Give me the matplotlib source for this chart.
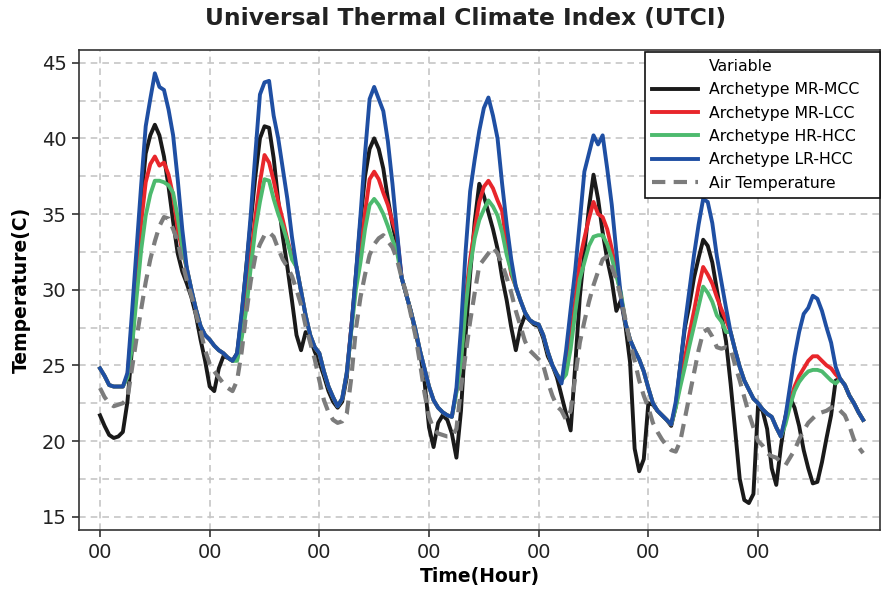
import matplotlib
matplotlib.use("Agg")
import matplotlib.pyplot as plt
from matplotlib.lines import Line2D
import numpy as np

plt.rcParams['font.family'] = ['DejaVu Sans']

# hourly values over 7 days (one row per day)
mr_mcc = [
    21.7, 21.0, 20.4, 20.2, 20.3, 20.6, 22.6, 26.1, 31.0, 35.8, 39.0, 40.2, 40.9, 40.2, 38.8, 36.8, 34.5, 32.4, 31.2, 30.4, 29.5, 28.3, 26.7, 25.3,
    23.6, 23.3, 24.8, 25.6, 25.5, 25.3, 25.8, 28.3, 31.5, 34.5, 37.5, 40.0, 40.8, 40.7, 38.7, 35.9, 33.5, 31.5, 29.3, 27.0, 26.0, 27.2, 26.8, 25.9,
    25.2, 24.3, 23.3, 22.6, 22.2, 22.6, 24.2, 27.5, 31.0, 34.5, 37.5, 39.3, 40.0, 39.3, 38.0, 36.0, 34.3, 33.0, 30.8, 29.7, 28.6, 27.2, 25.9, 24.0,
    20.9, 19.6, 21.2, 21.7, 21.4, 20.5, 18.9, 22.0, 27.0, 31.0, 34.5, 37.0, 36.2, 35.1, 34.0, 32.7, 30.8, 29.3, 27.5, 26.0, 27.5, 28.3, 28.0, 27.7,
    27.6, 26.8, 25.6, 25.0, 24.2, 23.0, 21.8, 20.7, 25.0, 29.5, 32.5, 35.4, 37.6, 36.0, 33.8, 32.0, 30.6, 28.6, 29.3, 27.6, 25.2, 19.5, 18.0, 18.8,
    22.5, 22.4, 22.0, 21.7, 21.4, 21.0, 22.3, 25.0, 27.5, 29.0, 30.8, 32.1, 33.3, 32.9, 31.8, 30.0, 28.3, 26.6, 23.8, 20.7, 17.5, 16.1, 15.9, 16.5,
    22.3, 22.0, 20.8, 18.2, 17.1, 19.6, 21.6, 22.9, 22.2, 21.0, 19.4, 18.2, 17.2, 17.3, 18.6, 20.2, 21.7, 24.0, 24.1, 23.7, 23.0, 22.5, 21.9, 21.4,
]
mr_lcc = [
    24.8, 24.3, 23.7, 23.6, 23.6, 23.6, 24.3, 27.7, 31.0, 34.4, 37.1, 38.3, 38.8, 38.2, 38.4, 37.6, 36.2, 34.0, 32.6, 31.4, 30.0, 28.7, 27.6, 27.0,
    26.7, 26.3, 26.0, 25.8, 25.5, 25.3, 25.4, 27.0, 29.2, 32.2, 34.8, 37.1, 38.9, 38.4, 37.2, 35.8, 34.6, 33.3, 32.2, 31.5, 29.9, 28.3, 27.0, 26.2,
    25.8, 24.6, 23.6, 22.9, 22.3, 22.8, 24.5, 27.5, 30.5, 32.4, 35.1, 37.3, 37.8, 37.3, 36.4, 35.6, 34.5, 33.6, 30.8, 29.7, 28.6, 27.4, 26.0, 24.8,
    23.6, 22.7, 22.2, 21.9, 21.7, 21.6, 23.3, 25.5, 29.5, 32.0, 34.0, 35.8, 36.8, 37.2, 36.7, 35.9, 35.2, 33.0, 31.0, 30.2, 29.3, 28.5, 28.0, 27.8,
    27.7, 27.0, 25.9, 25.0, 24.4, 24.0, 24.8, 26.9, 29.3, 32.0, 33.4, 34.7, 35.8, 35.0, 34.8, 34.0, 32.7, 31.2, 29.6, 27.8, 26.7, 26.0, 25.4, 24.6,
    23.5, 22.5, 22.0, 21.7, 21.4, 21.1, 22.3, 23.9, 25.5, 27.1, 28.6, 30.2, 31.5, 31.0, 30.4, 29.5, 28.7, 28.0, 27.2, 26.0, 24.9, 24.0, 23.4, 22.8,
    22.5, 22.1, 21.8, 21.6, 20.9, 20.3, 21.5, 22.6, 23.6, 24.3, 24.8, 25.3, 25.6, 25.6, 25.3, 25.0, 24.8, 24.4, 24.1, 23.7, 23.0, 22.5, 21.9, 21.4,
]
hr_hcc = [
    24.8, 24.3, 23.7, 23.6, 23.6, 23.6, 24.2, 26.2, 29.5, 32.6, 34.9, 36.3, 37.2, 37.2, 37.1, 36.9, 36.4, 34.8, 32.8, 31.4, 30.0, 28.7, 27.6, 27.0,
    26.7, 26.3, 26.0, 25.8, 25.5, 25.3, 25.3, 26.8, 28.7, 31.5, 34.0, 35.8, 37.3, 37.2, 36.0, 35.0, 34.2, 33.2, 32.0, 31.5, 29.9, 28.3, 27.0, 26.2,
    25.8, 24.6, 23.6, 22.9, 22.3, 22.8, 24.5, 27.3, 30.0, 31.8, 34.0, 35.6, 36.0, 35.6, 35.0, 34.2, 33.3, 32.5, 30.8, 29.7, 28.6, 27.4, 26.0, 24.8,
    23.6, 22.7, 22.2, 21.9, 21.7, 21.6, 23.2, 25.2, 28.8, 31.5, 33.4, 34.6, 35.3, 35.9, 35.5, 34.9, 33.8, 32.3, 31.2, 30.2, 29.3, 28.5, 28.0, 27.8,
    27.7, 27.0, 25.9, 25.0, 24.4, 24.0, 24.4, 26.1, 28.5, 30.7, 31.8, 32.9, 33.5, 33.6, 33.6, 33.0, 32.1, 30.9, 29.8, 27.8, 26.7, 26.0, 25.4, 24.6,
    23.5, 22.5, 22.0, 21.7, 21.4, 21.1, 22.2, 23.6, 24.9, 26.3, 27.6, 28.9, 30.2, 29.8, 29.2, 28.3, 27.9, 27.2, 27.2, 26.0, 24.9, 24.0, 23.4, 22.8,
    22.5, 22.1, 21.8, 21.6, 20.9, 20.3, 21.1, 22.3, 23.3, 23.9, 24.3, 24.6, 24.7, 24.7, 24.6, 24.3, 24.0, 23.8, 24.1, 23.7, 23.0, 22.5, 21.9, 21.4,
]
lr_hcc = [
    24.8, 24.3, 23.7, 23.6, 23.6, 23.6, 24.5, 28.5, 32.7, 36.9, 40.8, 42.6, 44.3, 43.4, 43.2, 41.9, 40.2, 37.3, 34.0, 31.4, 30.0, 28.7, 27.6, 27.0,
    26.7, 26.3, 26.0, 25.8, 25.5, 25.3, 25.8, 28.5, 31.4, 35.0, 39.0, 42.9, 43.7, 43.8, 41.5, 40.0, 38.0, 36.0, 33.5, 31.5, 29.9, 28.3, 27.0, 26.2,
    25.8, 24.6, 23.6, 22.9, 22.3, 22.8, 24.5, 27.5, 31.0, 34.9, 39.0, 42.6, 43.4, 42.6, 41.8, 39.8, 37.0, 33.8, 30.8, 29.7, 28.6, 27.4, 26.0, 24.8,
    23.6, 22.7, 22.2, 21.9, 21.7, 21.6, 23.5, 27.5, 32.5, 36.5, 38.6, 40.5, 42.0, 42.7, 41.5, 40.0, 37.0, 34.3, 32.0, 30.2, 29.3, 28.5, 28.0, 27.8,
    27.7, 27.0, 25.9, 25.0, 24.4, 23.8, 26.0, 28.7, 31.3, 34.5, 37.8, 39.0, 40.2, 39.6, 40.2, 38.0, 35.6, 32.5, 29.5, 27.8, 26.7, 26.0, 25.4, 24.6,
    23.5, 22.5, 22.0, 21.7, 21.4, 21.1, 22.6, 25.0, 27.7, 30.0, 32.3, 34.3, 36.0, 35.8, 34.4, 32.2, 30.5, 28.8, 27.2, 26.0, 24.9, 24.0, 23.4, 22.8,
    22.5, 22.1, 21.8, 21.6, 20.9, 20.3, 21.6, 23.6, 25.6, 27.2, 28.4, 28.8, 29.6, 29.4, 28.6, 27.5, 26.5, 24.9, 24.1, 23.7, 23.0, 22.5, 21.9, 21.4,
]
air_temp = [
    23.5, 22.9, 22.5, 22.3, 22.4, 22.5, 22.8, 24.8, 26.8, 28.7, 30.5, 32.0, 33.2, 34.2, 34.8, 34.7, 34.0, 33.2, 31.8, 30.6, 29.6, 28.4, 27.3, 26.0,
    25.1, 24.6, 24.2, 23.8, 23.5, 23.3, 24.0, 25.9, 28.4, 30.6, 32.2, 33.0, 33.6, 33.8, 33.5, 32.7, 32.0, 31.5, 30.9, 30.0, 29.0, 27.6, 26.5, 25.4,
    24.0, 22.7, 21.9, 21.4, 21.2, 21.3, 21.8, 24.2, 27.4, 29.5, 31.0, 32.3, 33.0, 33.4, 33.6, 33.2, 32.8, 32.0, 30.8, 29.8, 28.4, 27.0, 25.2, 23.2,
    21.6, 20.8, 20.5, 20.4, 20.3, 20.3, 20.8, 23.5, 25.7, 27.9, 29.8, 31.6, 32.0, 32.4, 32.8, 32.4, 31.7, 30.8, 29.8, 28.6, 27.6, 26.6, 26.0, 25.7,
    25.4, 25.0, 23.9, 23.0, 22.3, 22.0, 21.4, 22.0, 24.2, 26.5, 27.9, 29.2, 30.3, 31.2, 32.0, 32.2, 31.5, 30.7, 29.5, 28.0, 26.5, 25.3, 24.0, 23.0,
    22.2, 21.2, 20.6, 20.1, 19.7, 19.4, 19.3, 20.0, 21.5, 23.0, 24.5, 26.0, 27.2, 27.4, 26.9, 26.2, 26.1, 26.2, 26.1, 25.0, 24.0, 22.9, 21.8, 20.9,
    20.0, 19.7, 19.2, 19.0, 18.9, 18.6, 18.4, 18.9, 19.4, 20.1, 20.7, 21.2, 21.5, 21.8, 21.9, 22.0, 22.2, 22.3, 22.0, 21.7, 21.0, 20.1, 19.6, 19.2,
]
hours = np.arange(len(lr_hcc))
day_ticks = [0, 24, 48, 72, 96, 120, 144]
day_labels = ['00'] * 7

fig = plt.figure(figsize=(8.82, 5.94), dpi=100)
ax = fig.add_axes([79/882, 1-530/594, 801/882, 480/594])

lw = 2.8
ax.plot(hours, mr_mcc, color='#1a1a1a', lw=lw, label='Archetype MR-MCC', zorder=3)
ax.plot(hours, mr_lcc, color='#e8262b', lw=lw, label='Archetype MR-LCC', zorder=3)
ax.plot(hours, hr_hcc, color='#4dba6e', lw=lw, label='Archetype HR-HCC', zorder=3)
ax.plot(hours, lr_hcc, color='#1f4fa3', lw=lw, label='Archetype LR-HCC', zorder=3)
ax.plot(hours, air_temp, color='#7c7c7c', lw=3.0, ls=(0, (3.2, 2.0)),
        label='Air Temperature', zorder=4)

ax.set_xlim(-4.6, 170.7)
ax.set_ylim(14.12, 45.84)
ax.set_xticks(day_ticks)
ax.set_xticklabels(day_labels)
ax.set_yticks([15, 20, 25, 30, 35, 40, 45])
ax.set_yticks(np.arange(15, 46, 2.5), minor=True)
ax.tick_params(which='major', direction='out', length=5, width=1.1,
               labelsize=14, colors='#222222', pad=4)
ax.tick_params(which='minor', length=0)
ax.grid(True, which='major', axis='x', color='#c6c6c6', lw=1.2, ls=(0, (4, 3)))
ax.grid(True, which='both', axis='y', color='#c6c6c6', lw=1.2, ls=(0, (4, 3)))
ax.set_axisbelow(True)
for s in ax.spines.values():
    s.set_color('#333333')
    s.set_linewidth(1.2)

ax.set_xlabel('Time(Hour)', fontsize=13.5, fontweight='bold', labelpad=4)
ax.set_ylabel('Temperature(C)', fontsize=13.5, fontweight='bold', labelpad=8)
fig.text(466/882, 1-18/594, 'Universal Thermal Climate Index (UTCI)',
         ha='center', va='center', fontsize=16.8, fontweight='bold', color='#222222')

handles, labels = ax.get_legend_handles_labels()
title_proxy = Line2D([], [], color='none')
leg = ax.legend([title_proxy] + handles, ['Variable'] + labels,
                loc='upper left', bbox_to_anchor=(566/801, 0.5, 235/801, 0.496),
                mode='expand', fontsize=11.3,
                frameon=True, fancybox=False, framealpha=1, edgecolor='#111111',
                handlelength=2.9, handletextpad=0.7, labelspacing=0.53,
                borderpad=0.45, borderaxespad=0.0)
leg.get_frame().set_linewidth(1.2)

fig.savefig('out.png', dpi=100)
